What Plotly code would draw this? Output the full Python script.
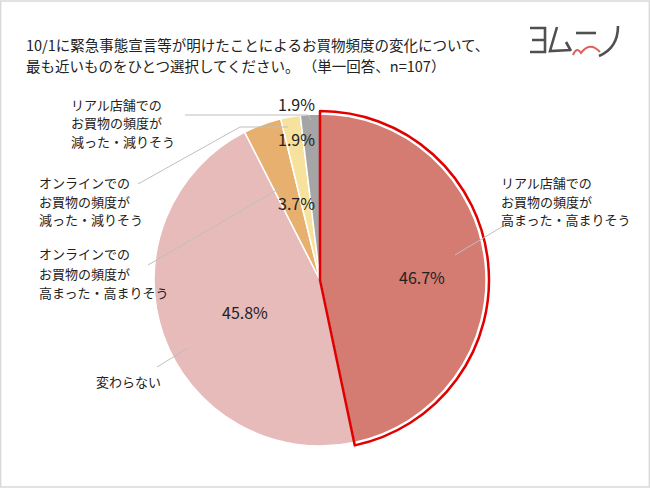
import plotly.graph_objects as go

W, H = 650, 488

categories = [
    ["リアル店舗での", "お買物の頻度が", "高まった・高まりそう"],
    ["変わらない"],
    ["オンラインでの", "お買物の頻度が", "高まった・高まりそう"],
    ["オンラインでの", "お買物の頻度が", "減った・減りそう"],
    ["リアル店舗での", "お買物の頻度が", "減った・減りそう"],
]
values = [46.7, 45.8, 3.7, 1.9, 1.9]
colors = ["#D47B72", "#E6BBBA", "#E7B06E", "#F6E29C", "#A5A5A5"]

title_lines = ["10/1に緊急事態宣言等が明けたことによるお買物頻度の変化について、",
               "最も近いものをひとつ選択してください。 （単一回答、n=107）"]

FONT = "Noto Sans CJK JP, sans-serif"

def px(x):
    return x / W

def py(y):
    return 1 - y / H

cx, cy, r = 320, 280, 166
labels_flat = ["".join(c) for c in categories]

fig = go.Figure()
fig.add_trace(go.Pie(
    values=values, labels=labels_flat, sort=False, direction="clockwise", rotation=0,
    marker=dict(colors=colors, line=dict(color="white", width=1.5)),
    textinfo="none", hoverinfo="skip", showlegend=False,
    domain=dict(x=[px(cx - r), px(cx + r)], y=[py(cy + r), py(cy - r)]),
))
ro = r + 3
fig.add_trace(go.Pie(
    values=values, labels=labels_flat, sort=False, direction="clockwise", rotation=0,
    marker=dict(colors=["rgba(0,0,0,0)"] * 5,
                line=dict(color=["#E00000"] + ["rgba(0,0,0,0)"] * 4, width=[2.5, 0, 0, 0, 0])),
    textinfo="none", hoverinfo="skip", showlegend=False,
    domain=dict(x=[px(cx - ro), px(cx + ro)], y=[py(cy + ro), py(cy - ro)]),
))

annotations = []
def txt(x, y, t, size, color="#222222", anchor="left"):
    annotations.append(dict(x=px(x), y=py(y), xref="paper", yref="paper", xanchor=anchor, yanchor="middle",
                            text=t, showarrow=False, borderpad=0,
                            font=dict(family=FONT, size=size, color=color)))

# title
for i, line in enumerate(title_lines):
    txt(25, 45 + i * 20, line, 14.5)

# percent labels
pct_pos = [(422, 277), (245, 312), (296, 203), (296, 139), (296, 104)]
for v, (x, y) in zip(values, pct_pos):
    txt(x, y, f"{v:.1f}%", 16, anchor="center")

# category labels (left x, middle-line center y)
cat_pos = [(500, 201), (95, 381), (38, 273), (38, 201), (70, 123)]
for lines, (x, y) in zip(categories, cat_pos):
    n = len(lines)
    for i, line in enumerate(lines):
        txt(x, y + (i - (n - 1) / 2) * 19, line, 13)

# leader lines
leaders = [
    [(455, 255), (510, 222)],
    [(157, 367), (188, 348)],
    [(148, 265), (282, 187)],
    [(138, 184), (240, 127), (288, 127)],
    [(185, 115), (308, 115), (311, 120)],
]
shapes = []
def path_shape(pts_str, color, width):
    shapes.append(dict(type="path", xref="paper", yref="paper", path=pts_str,
                       line=dict(color=color, width=width)))

for pts in leaders:
    path_shape("M " + " L ".join(f"{px(x)},{py(y)}" for x, y in pts), "#BFBFBF", 1)

# border
shapes.append(dict(type="rect", xref="paper", yref="paper", x0=0.001, y0=0.002, x1=0.999, y1=0.998,
                   line=dict(color="#D9D9D9", width=1.5)))

# logo drawn as strokes
def P(x, y):
    return f"{px(x)},{py(y)}"
g = "#505050"
path_shape(f"M {P(530,28)} L {P(545,28)} L {P(545,52)} L {P(530,52)} M {P(532,40)} L {P(545,40)}", g, 2.6)
path_shape(f"M {P(557,27)} L {P(550,51)} L {P(571,50)} M {P(566,42)} L {P(571,51)}", g, 2.6)
path_shape(f"M {P(576,33)} L {P(596,33)}", g, 2.6)
path_shape(f"M {P(618,26)} Q {P(618,48)} {P(599,56)}", g, 2.6)
path_shape(f"M {P(573,55)} Q {P(577,46)} {P(581,53)} Q {P(590,41)} {P(600,52)}", "#E0605A", 2)

fig.update_layout(
    width=W, height=H, margin=dict(l=0, r=0, t=0, b=0),
    paper_bgcolor="white", plot_bgcolor="white",
    annotations=annotations, shapes=shapes,
)
fig.write_html("out.html")
